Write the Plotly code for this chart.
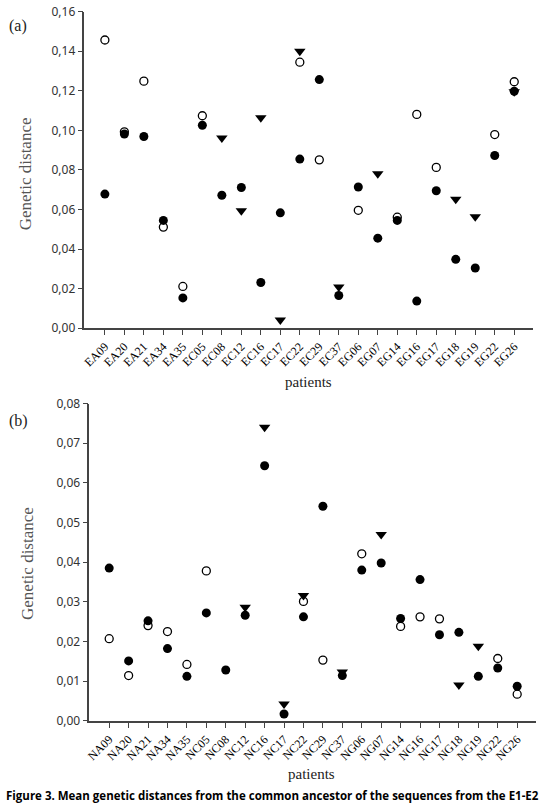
import plotly.graph_objects as go

W, H = 553, 811

cats_a = ["EA09", "EA20", "EA21", "EA34", "EA35", "EC05", "EC08", "EC12", "EC16", "EC17", "EC22",
          "EC29", "EC37", "EG06", "EG07", "EG14", "EG16", "EG17", "EG18", "EG19", "EG22", "EG26"]
filled_a = [0.0678, 0.0982, 0.0969, 0.0545, 0.0153, 0.1026, 0.0672, 0.0711, 0.0231, 0.0583, 0.0855,
            0.1257, 0.0165, 0.0714, 0.0455, 0.0545, 0.0137, 0.0695, 0.0348, 0.0304, 0.0873, 0.1198]
open_a = [0.1457, 0.0993, 0.1249, 0.0511, 0.0211, 0.1074, None, None, None, None, 0.1345,
          0.0851, None, 0.0596, None, 0.0561, 0.1081, 0.0813, None, None, 0.0979, 0.1246]
tri_a = [None, None, None, None, None, None, 0.0962, 0.0594, 0.1064, 0.0041, 0.1400,
         None, 0.0208, None, 0.0781, None, None, None, 0.0652, 0.0563, None, 0.1195]

cats_b = ["NA09", "NA20", "NA21", "NA34", "NA35", "NC05", "NC08", "NC12", "NC16", "NC17", "NC22",
          "NC29", "NC37", "NG06", "NG07", "NG14", "NG16", "NG17", "NG18", "NG19", "NG22", "NG26"]
filled_b = [0.0385, 0.0151, 0.0252, 0.0182, 0.0112, 0.0272, 0.0128, 0.0266, 0.0643, 0.0017, 0.0262,
            0.0541, 0.0114, 0.0380, 0.0398, 0.0258, 0.0356, 0.0217, 0.0223, 0.0112, 0.0133, 0.0087]
open_b = [0.0207, 0.0114, 0.0240, 0.0225, 0.0142, 0.0378, None, None, None, None, 0.0301,
          0.0153, None, 0.0421, None, 0.0238, 0.0262, 0.0257, None, None, 0.0157, 0.0067]
tri_b = [None, None, None, None, None, None, None, 0.0286, 0.0740, 0.0042, 0.0316,
         None, 0.0123, None, 0.0470, None, None, None, 0.0090, 0.0188, None, None]

yt_a = [0.00, 0.02, 0.04, 0.06, 0.08, 0.10, 0.12, 0.14, 0.16]
yt_b = [0.00, 0.01, 0.02, 0.03, 0.04, 0.05, 0.06, 0.07, 0.08]

def px(p):  # horizontal pixel -> paper
    return p / W

def py(p):  # vertical pixel -> paper
    return 1 - p / H

fig = go.Figure()

def add_panel(cats, filled, opn, tri, xa, ya):
    idx = list(range(len(cats)))
    fig.add_trace(go.Scatter(x=idx, y=tri, mode="markers", xaxis=xa, yaxis=ya,
                             marker=dict(symbol="triangle-down", size=10, color="black",
                                         line=dict(width=0)), showlegend=False))
    fig.add_trace(go.Scatter(x=idx, y=filled, mode="markers", xaxis=xa, yaxis=ya,
                             marker=dict(symbol="circle", size=9, color="black",
                                         line=dict(width=0)), showlegend=False))
    fig.add_trace(go.Scatter(x=idx, y=opn, mode="markers", xaxis=xa, yaxis=ya,
                             marker=dict(symbol="circle-open", size=8, color="black",
                                         line=dict(width=1.3)), showlegend=False))

add_panel(cats_a, filled_a, open_a, tri_a, "x", "y")
add_panel(cats_b, filled_b, open_b, tri_b, "x2", "y2")

axcol = "#444444"
tickfont_x = dict(family="Liberation Serif", size=12, color="black")
tickfont_y = dict(family="Noto Sans", size=12, color="#333333")

def xaxis(cats, dom, rng, anchor):
    return dict(domain=dom, range=rng, anchor=anchor, tickmode="array",
                tickvals=list(range(len(cats))), ticktext=cats, tickangle=-45,
                ticks="outside", ticklen=5, tickcolor=axcol, tickwidth=1,
                showline=True, linecolor=axcol, linewidth=1.5, showgrid=False,
                zeroline=False, tickfont=tickfont_x, fixedrange=True)

def yaxis(dom, rng, tv, anchor):
    return dict(domain=dom, range=rng, anchor=anchor, tickmode="array", tickvals=tv,
                tickformat=".2f", ticks="outside", ticklen=5, tickcolor=axcol, tickwidth=1,
                showline=True, linecolor=axcol, linewidth=1.5, showgrid=False,
                zeroline=False, tickfont=tickfont_y, fixedrange=True)

fig.update_layout(
    width=W, height=H, margin=dict(l=0, r=0, t=0, b=0),
    paper_bgcolor="white", plot_bgcolor="white", separators=",.",
    xaxis=xaxis(cats_a, [px(81), px(533)], [-1.05, 21.97], "y"),
    yaxis=yaxis([py(326), py(2.8)], [0, 0.16], yt_a, "x"),
    xaxis2=xaxis(cats_b, [px(86), px(535.7)], [-1.02, 21.96], "y2"),
    yaxis2=yaxis([py(727), py(403)], [0, 0.08], yt_b, "x2"),
)

serif = "Liberation Serif"
ann = []
ann.append(dict(text="(a)", x=px(3), y=py(17), xanchor="left", yanchor="middle",
                font=dict(family=serif, size=16, color="#222")))
ann.append(dict(text="(b)", x=px(3), y=py(421), xanchor="left", yanchor="middle",
                font=dict(family=serif, size=16, color="#222")))
ann.append(dict(text="Genetic distance", x=px(22), y=py(168), textangle=-90,
                xanchor="center", yanchor="middle",
                font=dict(family=serif, size=17, color="#555")))
ann.append(dict(text="Genetic distance", x=px(23), y=py(566), textangle=-90,
                xanchor="center", yanchor="middle",
                font=dict(family=serif, size=17, color="#555")))
ann.append(dict(text="patients", x=px(307), y=py(381), xanchor="center", yanchor="middle",
                font=dict(family=serif, size=15, color="#222")))
ann.append(dict(text="patients", x=px(310), y=py(781), xanchor="center", yanchor="middle",
                font=dict(family=serif, size=15, color="#222")))
ann.append(dict(text="<b>Figure 3. Mean genetic distances from the common ancestor of the sequences from the E1-E2</b>",
                x=0, y=py(803), xanchor="left", yanchor="middle",
                font=dict(family="Open Sans", size=11.5, color="black")))
for a in ann:
    a.update(xref="paper", yref="paper", showarrow=False)
fig.update_layout(annotations=ann)

fig.write_html("out.html")
